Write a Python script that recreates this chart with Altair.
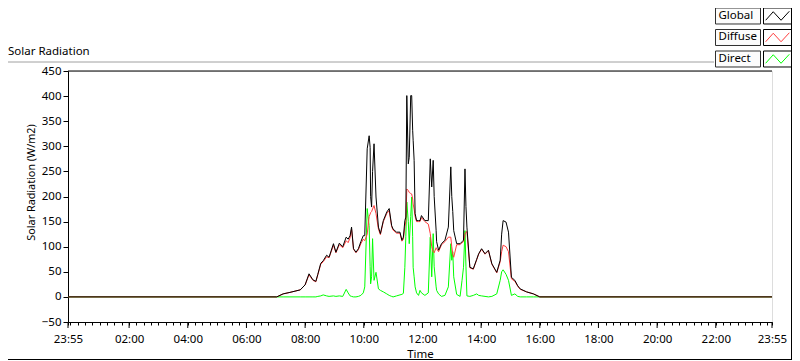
import altair as alt
import pandas as pd

# ---- data (minutes after 00:00; -5 = 23:55 of the previous day) ----
times = [-5, 422, 435, 449, 470, 480, 488, 496, 502, 506, 512, 517, 524, 529, 538, 543,
         550, 557, 564, 568, 572, 575, 579, 584, 589, 594, 599, 602, 607, 611, 613, 614,
         616, 618, 621, 625, 630, 634, 640, 647, 652, 657, 660, 667, 674, 678, 681, 684,
         686, 688, 691, 693, 696, 698, 700, 701, 703, 705, 708, 712, 715, 718, 725, 732,
         736, 739, 742, 744, 748, 749, 753, 759, 766, 773, 778, 780, 782, 784, 790, 797,
         801, 804, 807, 809, 811, 817, 824, 831, 835, 841, 848, 855, 862, 872, 879, 882,
         885, 891, 896, 902, 909, 915, 920, 933, 947, 960, 1435]
global_vals = [0, 0, 6, 9, 14, 24, 46, 34, 31, 45, 67, 72, 83, 79, 106, 89,
               107, 100, 119, 115, 122, 139, 96, 89, 96, 110, 122, 122, 295, 321, 298, 200,
               179, 250, 305, 199, 139, 126, 152, 169, 176, 142, 135, 129, 129, 113, 119, 152,
               159, 401, 265, 278, 401, 401, 332, 312, 272, 166, 152, 152, 152, 162, 152, 152,
               275, 219, 272, 200, 132, 110, 93, 106, 113, 139, 259, 200, 170, 132, 106, 106,
               110, 113, 255, 180, 139, 59, 56, 75, 86, 96, 86, 93, 66, 49, 73, 125,
               152, 149, 129, 39, 33, 22, 16, 10, 6, 0, 0]
diffuse_vals = [0, 0, 6, 9, 14, 24, 44, 33, 30, 44, 65, 70, 80, 78, 103, 88,
                104, 98, 112, 108, 118, 135, 95, 88, 94, 106, 115, 112, 125, 160, 165, 168,
                170, 175, 182, 166, 135, 124, 150, 166, 172, 140, 133, 127, 127, 111, 115, 140,
                150, 215, 212, 208, 206, 205, 195, 185, 175, 160, 150, 150, 150, 158, 150, 145,
                126, 100, 90, 88, 98, 96, 90, 104, 110, 119, 119, 100, 85, 79, 104, 104,
                108, 110, 125, 129, 130, 58, 55, 74, 85, 95, 85, 92, 65, 48, 70, 90,
                103, 100, 90, 36, 31, 21, 15, 10, 6, 0, 0]
direct_vals = [0, 0, 0, 0, 0, 0, 0, 0, 0, 1, 2, 4, 2, 1, 2, 1,
               2, 1, 15, 8, 2, 1, 0, 0, 1, 3, 8, 20, 176, 142, 60, 26,
               40, 116, 33, 49, 16, 13, 10, 6, 3, 1, 0, 2, 4, 5, 7, 59,
               120, 189, 150, 106, 160, 199, 120, 59, 40, 20, 8, 3, 13, 8, 3, 8,
               119, 40, 126, 60, 20, 13, 6, 1, 3, 20, 106, 73, 90, 40, 5, 1,
               33, 59, 132, 60, 2, 1, 3, 6, 3, 2, 1, 0, 1, 6, 33, 50,
               54, 45, 33, 3, 6, 1, 0, 0, 0, 0, 0]

series_names = ["Global", "Diffuse", "Direct"]
series_colors = ["#000000", "#ff3c3c", "#00ff00"]

y_ticks = [-50, 0, 50, 100, 150, 200, 250, 300, 350, 400, 450]
major_ticks = [-5, 120, 240, 360, 480, 600, 720, 840, 960, 1080, 1200, 1320, 1435]
major_labels = ["23:55", "02:00", "04:00", "06:00", "08:00", "10:00", "12:00",
                "14:00", "16:00", "18:00", "20:00", "22:00", "23:55"]
minor_ticks = list(range(0, 1440, 15))

chart_title = "Solar Radiation"
x_title = "Time"
y_title = "Solar Radiation (W/m2)"

FONT = "Noto Sans"

# ---- build tables ----
rows = []
for name, vals in zip(series_names, [global_vals, diffuse_vals, direct_vals]):
    for t, v in zip(times, vals):
        rows.append({"t": t, "v": v, "series": name})
df = pd.DataFrame(rows)

tick_values = sorted(set(major_ticks) | set(minor_ticks))
label_expr = ""
for val, lab in zip(major_ticks, major_labels):
    label_expr += f"datum.value == {val} ? '{lab}' : "
label_expr += "''"

color_scale = alt.Scale(domain=series_names, range=series_colors)

x_axis = alt.Axis(
    values=tick_values, labelExpr=label_expr, grid=False, tickSize=3,
    tickColor="black", domainColor="black", labelColor="black",
    labelFont=FONT, labelFontSize=11.5, labelPadding=8, labelFlush=False,
    labelOverlap=False, titleFont=FONT, titleFontSize=11.5, titleFontWeight="normal",
    titleColor="black", titleX=352, titleY=32, titleBaseline="middle",
)
y_axis = alt.Axis(
    values=y_ticks, grid=False, tickSize=5, tickColor="black", domainColor="black",
    labelColor="black", labelFont=FONT, labelFontSize=11.5, labelPadding=2,
    labelOverlap=False, labelFlush=False, labelBound=False,
    titleFont=FONT, titleFontSize=10.8, titleFontWeight="normal", titleColor="black",
    titleX=-37, titleY=111, titleAngle=-90, titleAlign="center", titleBaseline="middle",
)

x_enc = alt.X("t:Q", scale=alt.Scale(domain=[-5, 1435], nice=False, zero=False),
              axis=x_axis, title=x_title)
y_enc = alt.Y("v:Q", scale=alt.Scale(domain=[-50, 450], nice=False, zero=False),
              axis=y_axis, title=y_title)


def series_line(name):
    return (alt.Chart(df).transform_filter(alt.datum.series == name)
            .mark_line(strokeWidth=1)
            .encode(x=x_enc, y=y_enc,
                    color=alt.Color("series:N", scale=color_scale, legend=None)))


top_border = (alt.Chart(pd.DataFrame({"v": [450]}))
              .mark_rule(color="black", strokeWidth=1)
              .encode(y=y_enc))

# longer ticks for the labelled (major) times
major_tick_marks = (alt.Chart(pd.DataFrame({"t": major_ticks}))
                    .mark_rule(color="black", strokeWidth=1)
                    .encode(x=x_enc, y=alt.value(251), y2=alt.value(257)))

data_layer = alt.layer(series_line("Direct"), series_line("Diffuse"),
                       series_line("Global"), top_border, major_tick_marks)

# ---- custom LabVIEW-style legend ----
legend_df = pd.DataFrame({"series": series_names, "row": list(range(len(series_names)))})
ly = alt.Scale(domain=[0, 1], range=[-63, -41.5], nice=False, zero=False)
leg_base = alt.Chart(legend_df).transform_calculate(
    row_b="datum.row + 0.744", row_c="datum.row + 0.372")

label_box = leg_base.mark_rect(fill="#fcfcfc", stroke="#303030", strokeWidth=1).encode(
    x=alt.value(647.5), x2=alt.value(692.5),
    y=alt.Y("row:Q", scale=ly, axis=None), y2="row_b:Q")
label_text = leg_base.mark_text(align="left", baseline="middle", font=FONT,
                                fontSize=11.5, color="black").encode(
    x=alt.value(650.5), y=alt.Y("row_c:Q", scale=ly, axis=None), text="series:N")
swatch_box = leg_base.mark_rect(fill="white", stroke="black", strokeWidth=1).encode(
    x=alt.value(695.5), x2=alt.value(723.5),
    y=alt.Y("row:Q", scale=ly, axis=None), y2="row_b:Q")
zigzag = "M-1,0.36L-0.36,-0.36L0.3,0.36L1,-0.4"
swatch_line = leg_base.mark_point(shape=zigzag, size=560, filled=False,
                                  strokeWidth=1, opacity=1).encode(
    x=alt.value(709.5), y=alt.Y("row_c:Q", scale=ly, axis=None),
    color=alt.Color("series:N", scale=color_scale, legend=None))

legend_layer = alt.layer(label_box, label_text, swatch_box, swatch_line)

# ---- outer frame and panel caption ----
one = alt.Data(values=[{"k": 1}])
frame_top = alt.Chart(one).mark_rule(color="#a0a0a0").encode(
    x=alt.value(-60), x2=alt.value(646), y=alt.value(-9))
frame_bottom = alt.Chart(one).mark_rule(color="black").encode(
    x=alt.value(-60), x2=alt.value(724), y=alt.value(288.5))
frame_right = alt.Chart(one).mark_rule(color="black").encode(
    x=alt.value(723.5), y=alt.value(-63), y2=alt.value(289))
caption = alt.Chart(one).mark_text(align="left", baseline="alphabetic", font=FONT,
                                   fontSize=11.5, color="black").encode(
    x=alt.value(-60), y=alt.value(-16), text=alt.value(chart_title))
frame_layer = alt.layer(frame_top, frame_bottom, frame_right, caption)

chart = (alt.layer(data_layer, legend_layer, frame_layer)
         .resolve_scale(y="independent")
         .properties(width=704, height=251,
                     padding={"left": 60, "top": 63, "right": 20, "bottom": 38},
                     autosize=alt.AutoSizeParams(type="none"))
         .configure_axis(labelOverlap=False)
         .configure_axisY(labelOverlap=False)
         .configure_view(stroke="#808080", strokeWidth=1)
         .configure(background="white"))

chart.save("out.html", embed_options={"renderer": "svg", "actions": False})
